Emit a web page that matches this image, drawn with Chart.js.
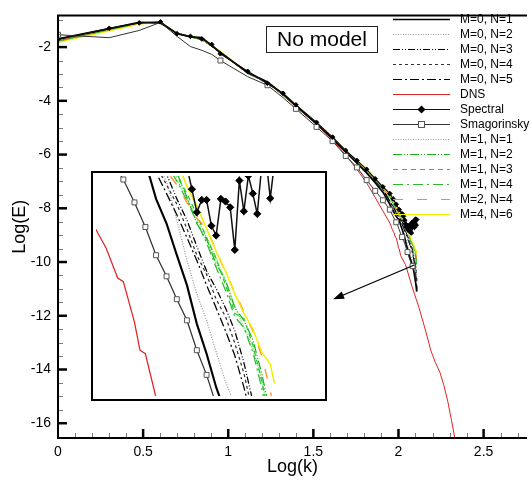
<!DOCTYPE html>
<html>
<head>
<meta charset="utf-8">
<script src="https://cdn.jsdelivr.net/npm/chart.js@4.4.1/dist/chart.umd.min.js"></script>
<style>
  body { margin: 0; background: #fff; }
  #wrap { position: relative; width: 532px; height: 483px; }
  #inset { position: absolute; left: 91px; top: 171px; }
</style>
</head>
<body>
<div id="wrap">
  <canvas id="main" width="532" height="483"></canvas>
  <canvas id="inset" width="236" height="230"></canvas>
</div>
<script>
// wavenumbers of the model runs (x axis is Log(k))
const kModel = [1, 2, 3, 4, 5, 6, 7, 8, 9, 13, 17, 21, 25, 33, 41, 49, 57, 65, 73, 81,
  89, 91, 93, 95, 97, 99, 101, 103, 105, 107, 109, 111, 113, 115, 117, 119, 121, 123, 125, 127, 128];
const kSpectral = [1, 2, 3, 4, 5, 6, 7, 8, 9, 13, 17, 21, 25, 33, 41, 49, 57, 65, 73, 81,
  89, 93, 97, 101, 105, 107, 109, 110, 111, 112, 113, 114, 115, 116, 117, 118, 119, 120,
  121, 122, 123, 124, 125, 126, 127, 128];
const kDns = [1, 2, 3, 4, 5, 6, 7, 8, 9, 13, 17, 21, 25, 33, 41, 49, 57, 65, 73, 81,
  89, 92, 94, 96, 97, 99, 100, 101, 103, 110, 120, 132, 145, 155, 165, 175, 185, 195, 205, 215, 225];

// Log(E) values
const m0n1 = [-1.69, -1.31, -1.08, -1.10, -1.49, -1.62, -1.65, -1.95, -2.2, -2.95, -3.3, -3.75, -4.18, -4.85, -5.42, -5.9, -6.32, -6.68, -7.05, -7.4,
  -7.85, -7.98, -8.08, -8.2, -8.3, -8.38, -8.42, -8.63, -8.77, -8.95, -9.12, -9.34, -9.51, -9.7, -9.85, -10.0, -10.15, -10.35, -10.6, -10.9, -11.1];
const m0n2 = [-1.72, -1.33, -1.1, -1.09, -1.5, -1.63, -1.7, -1.96, -2.19, -2.97, -3.32, -3.78, -4.2, -4.86, -5.41, -5.89, -6.3, -6.62, -6.98, -7.3,
  -7.75, -7.85, -7.95, -8.05, -8.15, -8.25, -8.33, -8.42, -8.53, -8.75, -8.98, -9.17, -9.32, -9.5, -9.67, -9.8, -9.95, -10.1, -10.25, -10.4, -10.5];
const m0n3 = [-1.7, -1.32, -1.09, -1.09, -1.52, -1.6, -1.72, -1.98, -2.2, -2.92, -3.35, -3.72, -4.25, -4.82, -5.4, -5.86, -6.27, -6.6, -6.95, -7.28,
  -7.72, -7.82, -7.92, -8.02, -8.12, -8.22, -8.3, -8.4, -8.49, -8.63, -8.75, -8.9, -9.04, -9.14, -9.25, -9.38, -9.56, -9.78, -10.0, -10.25, -10.4];
const m0n4 = [-1.71, -1.34, -1.1, -1.1, -1.5, -1.62, -1.7, -1.97, -2.18, -2.99, -3.3, -3.8, -4.19, -4.88, -5.38, -5.9, -6.29, -6.63, -6.97, -7.29,
  -7.73, -7.83, -7.94, -8.04, -8.14, -8.24, -8.33, -8.44, -8.55, -8.66, -8.8, -8.95, -9.06, -9.2, -9.3, -9.45, -9.62, -9.85, -10.1, -10.35, -10.5];
const m0n5 = [-1.7, -1.35, -1.1, -1.08, -1.52, -1.6, -1.7, -1.95, -2.22, -2.96, -3.36, -3.76, -4.22, -4.87, -5.43, -5.9, -6.3, -6.65, -7.0, -7.32,
  -7.74, -7.85, -7.96, -8.06, -8.18, -8.28, -8.36, -8.48, -8.6, -8.72, -8.85, -8.98, -9.12, -9.25, -9.38, -9.52, -9.7, -9.9, -10.2, -10.6, -10.9];
const dns = [-1.76, -1.37, -1.12, -1.09, -1.5, -1.62, -1.72, -1.97, -2.2, -2.98, -3.33, -3.8, -4.22, -4.88, -5.45, -6.02, -6.55, -7.05, -7.6, -8.1,
  -8.55, -8.79, -8.91, -9.08, -9.10, -9.33, -9.49, -9.51, -9.76, -10.1, -10.9, -11.7, -12.6, -13.3, -13.75, -14.1, -14.6, -15.2, -15.9, -16.6, -17.3];
const spectral = [-1.71, -1.3, -1.1, -1.06, -1.5, -1.6, -1.7, -1.9, -2.25, -2.9, -3.35, -3.72, -4.15, -4.8, -5.35, -5.85, -6.22, -6.55, -6.9, -7.2,
  -7.45, -7.65, -7.85, -8.05, -8.2, -8.3, -8.45, -8.575, -8.706, -8.636, -8.636, -8.783, -8.838, -8.63, -8.645, -8.678, -8.92, -8.526,
  -8.70, -8.498, -8.60, -8.715, -8.45, -8.40, -8.627, -8.42];
const smag = [-1.54, -1.65, -1.38, -1.08, -1.6, -1.98, -2.12, -2.27, -2.5, -3.1, -3.42, -3.88, -4.3, -4.97, -5.5, -6.05, -6.48, -6.95, -7.35, -7.7,
  -8.05, -8.18, -8.3, -8.42, -8.52, -8.65, -8.79, -8.95, -9.07, -9.2, -9.32, -9.49, -9.63, -9.8, -9.93, -10.05, -10.15, -10.3, -10.45, -10.6, -10.7];
const m1n1 = [-1.8, -1.37, -1.13, -1.08, -1.5, -1.63, -1.72, -1.96, -2.17, -2.97, -3.31, -3.78, -4.19, -4.84, -5.4, -5.87, -6.27, -6.6, -6.93, -7.23,
  -7.62, -7.73, -7.84, -7.95, -8.05, -8.14, -8.22, -8.32, -8.42, -8.52, -8.63, -8.74, -8.85, -8.97, -9.1, -9.24, -9.36, -9.48, -9.65, -9.9, -10.05];
const m1n2 = [-1.8, -1.36, -1.12, -1.08, -1.5, -1.62, -1.73, -1.97, -2.18, -2.98, -3.32, -3.79, -4.2, -4.85, -5.4, -5.88, -6.28, -6.62, -6.95, -7.25,
  -7.57, -7.67, -7.78, -7.88, -7.98, -8.08, -8.18, -8.28, -8.38, -8.48, -8.62, -8.77, -8.86, -9.0, -9.09, -9.25, -9.32, -9.43, -9.62, -9.85, -9.95];
const m1n3 = [-1.79, -1.37, -1.12, -1.07, -1.49, -1.62, -1.72, -1.96, -2.18, -2.97, -3.31, -3.78, -4.2, -4.84, -5.39, -5.87, -6.27, -6.61, -6.94, -7.24,
  -7.59, -7.7, -7.81, -7.91, -8.02, -8.12, -8.22, -8.31, -8.4, -8.5, -8.6, -8.72, -8.85, -8.97, -9.12, -9.28, -9.31, -9.46, -9.66, -9.9, -10.0];
const m1n4 = [-1.8, -1.36, -1.12, -1.08, -1.51, -1.63, -1.73, -1.97, -2.19, -2.98, -3.33, -3.79, -4.21, -4.85, -5.41, -5.88, -6.29, -6.62, -6.96, -7.26,
  -7.6, -7.71, -7.82, -7.93, -8.03, -8.13, -8.24, -8.33, -8.43, -8.53, -8.64, -8.76, -8.88, -9.02, -9.15, -9.3, -9.36, -9.5, -9.7, -9.95, -10.1];
const m2n4 = [-1.82, -1.38, -1.13, -1.08, -1.5, -1.63, -1.72, -1.96, -2.18, -2.98, -3.32, -3.79, -4.2, -4.85, -5.4, -5.88, -6.28, -6.62, -6.95, -7.25,
  -7.56, -7.67, -7.78, -7.9, -8.0, -8.12, -8.25, -8.37, -8.47, -8.55, -8.65, -8.74, -8.8, -8.92, -9.05, -9.16, -9.27, -9.38, -9.52, -9.72, -9.85];
const m4n6 = [-1.83, -1.4, -1.15, -1.07, -1.48, -1.6, -1.7, -1.95, -2.15, -2.95, -3.3, -3.75, -4.17, -4.82, -5.37, -5.85, -6.25, -6.58, -6.9, -7.2,
  -7.5, -7.6, -7.71, -7.82, -7.92, -8.03, -8.13, -8.23, -8.32, -8.41, -8.56, -8.67, -8.8, -8.93, -9.04, -9.17, -9.28, -9.37, -9.5, -9.57, -9.68];

// zoomed window shown in the inset
const insetX = [1.965, 2.145];
const insetY = [-9.75, -8.5];

const series = [
  { label: 'M=0, N=1', k: kModel, y: m0n1, color: '#000000', width: 1.7, dash: [] },
  { label: 'M=0, N=2', k: kModel, y: m0n2, color: '#9a9a9a', width: 1, dash: [1, 1.5] },
  { label: 'M=0, N=3', k: kModel, y: m0n3, color: '#000000', width: 1, dash: [7, 2, 1, 2, 1, 2] },
  { label: 'M=0, N=4', k: kModel, y: m0n4, color: '#333333', width: 1, dash: [3, 3] },
  { label: 'M=0, N=5', k: kModel, y: m0n5, color: '#000000', width: 1, dash: [9, 3, 2, 3] },
  { label: 'DNS', k: kDns, y: dns, color: '#e02424', width: 1, dash: [] },
  { label: 'Spectral', k: kSpectral, y: spectral, color: '#111111', width: 1.2, dash: [], marker: 'diamond' },
  { label: 'Smagorinsky', k: kModel, y: smag, color: '#333333', width: 1, dash: [], marker: 'square' },
  { label: 'M=1, N=1', k: kModel, y: m1n1, color: '#3cdc3c', width: 1, dash: [1, 1.5] },
  { label: 'M=1, N=2', k: kModel, y: m1n2, color: '#19b319', width: 1, dash: [9, 2, 1, 2, 1, 2] },
  { label: 'M=1, N=3', k: kModel, y: m1n3, color: '#22cc22', width: 1, dash: [5, 4] },
  { label: 'M=1, N=4', k: kModel, y: m1n4, color: '#2eb82e', width: 1, dash: [10, 4, 2, 4] },
  { label: 'M=2, N=4', k: kModel, y: m2n4, color: '#ff8c1a', width: 1, dash: [10, 14] },
  { label: 'M=4, N=6', k: kModel, y: m4n6, color: '#f2ee00', width: 1.2, dash: [] }
];

const FONT = '"Liberation Sans", Arial, Helvetica, sans-serif';
Chart.defaults.font.family = FONT;
Chart.defaults.color = '#000';

function makeDatasets(inset) {
  return series.map((s, i) => {
    let radius = 0;
    if (s.marker === 'square') {
      radius = ctx => {
        const k = s.k[ctx.dataIndex];
        if (inset) return k >= 89 ? 3.5 : 0;
        return (k - 1) % 8 === 0 ? 3.5 : 0;
      };
    } else if (s.marker === 'diamond') {
      radius = inset ? 3.6 : 2.3;
    }
    return {
      label: s.label,
      data: s.k.map((k, j) => ({ x: Math.log10(k), y: s.y[j] })),
      showLine: true,
      borderColor: s.color,
      borderWidth: inset ? s.width * 1.25 : s.width,
      borderDash: s.dash,
      tension: 0,
      pointStyle: s.marker === 'diamond' ? 'rectRot' : 'rect',
      pointRadius: radius,
      pointBackgroundColor: s.marker === 'diamond' ? '#000' : '#fff',
      pointBorderColor: s.marker === 'diamond' ? '#000' : '#555',
      pointBorderWidth: 1,
      order: s.marker ? 0 : (i === 0 ? 1 : series.length - i + 2)
    };
  });
}

// frame, inward ticks, legend, label box and arrow
const decor = {
  id: 'decor',
  beforeDraw(chart) {
    const c = chart.ctx;
    c.save();
    c.fillStyle = '#fff';
    c.fillRect(0, 0, chart.width, chart.height);
    c.restore();
  },
  afterDraw(chart) {
    const c = chart.ctx, a = chart.chartArea, xs = chart.scales.x, ys = chart.scales.y;
    c.save();
    // minor ticks
    c.strokeStyle = '#7a7a7a';
    c.lineWidth = 1;
    for (let i = 1; i <= 27; i++) {
      if (i % 5 === 0) continue;
      const px = Math.round(xs.getPixelForValue(i / 10)) + 0.5;
      c.beginPath(); c.moveTo(px, a.bottom); c.lineTo(px, a.bottom - 5); c.stroke();
    }
    for (let v = -16.5; v <= -1; v += 0.5) {
      if (Math.abs(v % 2) < 1e-9) continue;
      const py = Math.round(ys.getPixelForValue(v)) + 0.5;
      c.beginPath(); c.moveTo(a.left, py); c.lineTo(a.left + 5, py); c.stroke();
    }
    // major ticks
    c.strokeStyle = '#000';
    c.lineWidth = 2.5;
    for (let v = 0.5; v <= 2.5; v += 0.5) {
      const px = xs.getPixelForValue(v);
      c.beginPath(); c.moveTo(px, a.bottom); c.lineTo(px, a.bottom - 9); c.stroke();
    }
    for (let v = -16; v <= -2; v += 2) {
      const py = ys.getPixelForValue(v);
      c.beginPath(); c.moveTo(a.left, py); c.lineTo(a.left + 9, py); c.stroke();
    }
    // axis frame
    c.lineWidth = 2;
    c.beginPath();
    c.moveTo(a.right, a.top); c.lineTo(a.left, a.top);
    c.lineTo(a.left, a.bottom); c.lineTo(a.right, a.bottom);
    c.stroke();

    // "No model" box
    c.fillStyle = '#fff';
    c.fillRect(266, 26, 112, 27);
    c.strokeStyle = '#222';
    c.lineWidth = 1;
    c.strokeRect(266.5, 26.5, 111, 26);
    c.fillStyle = '#000';
    c.font = '21px ' + FONT;
    c.textAlign = 'center';
    c.textBaseline = 'middle';
    c.fillText('No model', 322, 40.5);

    // legend
    c.font = '12px ' + FONT;
    c.textAlign = 'left';
    series.forEach((s, i) => {
      const y = 19.5 + 15 * i;
      c.strokeStyle = s.color;
      c.lineWidth = s.width;
      c.setLineDash(s.dash);
      c.beginPath(); c.moveTo(393, y); c.lineTo(450, y); c.stroke();
      c.setLineDash([]);
      if (s.marker === 'diamond') {
        c.fillStyle = '#000';
        c.beginPath();
        c.moveTo(421.5, y - 4); c.lineTo(425.5, y); c.lineTo(421.5, y + 4); c.lineTo(417.5, y);
        c.closePath(); c.fill();
      } else if (s.marker === 'square') {
        c.fillStyle = '#fff';
        c.fillRect(418.5, y - 3, 6, 6);
        c.strokeStyle = '#555';
        c.lineWidth = 1;
        c.strokeRect(418.5, y - 3, 6, 6);
      }
      c.fillStyle = '#000';
      c.fillText(s.label, 460, y);
    });

    // arrow from the curve ends to the inset
    const x1 = xs.getPixelForValue(2.093), y1 = ys.getPixelForValue(-10.11);
    const x2 = xs.getPixelForValue(1.616), y2 = ys.getPixelForValue(-11.39);
    const ang = Math.atan2(y2 - y1, x2 - x1);
    c.strokeStyle = '#000';
    c.fillStyle = '#000';
    c.lineWidth = 1.3;
    c.beginPath(); c.moveTo(x1, y1); c.lineTo(x2 - 8 * Math.cos(ang), y2 - 8 * Math.sin(ang)); c.stroke();
    c.beginPath();
    c.moveTo(x2, y2);
    c.lineTo(x2 - 11 * Math.cos(ang) + 4 * Math.sin(ang), y2 - 11 * Math.sin(ang) - 4 * Math.cos(ang));
    c.lineTo(x2 - 11 * Math.cos(ang) - 4 * Math.sin(ang), y2 - 11 * Math.sin(ang) + 4 * Math.cos(ang));
    c.closePath(); c.fill();
    c.restore();
  }
};

new Chart(document.getElementById('main'), {
  type: 'scatter',
  data: { datasets: makeDatasets(false) },
  options: {
    responsive: false,
    animation: false,
    events: [],
    layout: { padding: { top: 8, right: 0, left: 0, bottom: 0 } },
    plugins: { legend: { display: false }, tooltip: { enabled: false } },
    scales: {
      x: {
        type: 'linear', min: 0, max: 2.755,
        grid: { display: false, drawTicks: false },
        border: { display: false },
        ticks: { stepSize: 0.5, includeBounds: false, padding: 6, autoSkip: false, maxRotation: 0,
          font: { size: 14 }, color: '#000', callback: v => String(v) },
        title: { display: true, text: 'Log(k)', font: { size: 18 }, color: '#000', padding: { top: 0, bottom: 5 } },
        afterFit: s => { s.height = 45; }
      },
      y: {
        type: 'linear', min: -16.55, max: -0.82,
        grid: { display: false, drawTicks: false },
        border: { display: false },
        ticks: { stepSize: 2, includeBounds: false, padding: 7, autoSkip: false,
          font: { size: 14 }, color: '#000', callback: v => String(v) },
        title: { display: true, text: 'Log(E)', font: { size: 18 }, color: '#000', padding: { top: 9, bottom: 0 } },
        afterFit: s => { s.width = 58; }
      }
    }
  },
  plugins: [decor]
});

const insetFrame = {
  id: 'insetFrame',
  beforeDraw(chart) {
    const c = chart.ctx;
    c.save();
    c.fillStyle = '#fff';
    c.fillRect(0, 0, chart.width, chart.height);
    c.restore();
  },
  afterDraw(chart) {
    const c = chart.ctx;
    c.save();
    c.strokeStyle = '#000';
    c.lineWidth = 2;
    c.strokeRect(1, 1, chart.width - 2, chart.height - 2);
    c.restore();
  }
};

new Chart(document.getElementById('inset'), {
  type: 'scatter',
  data: { datasets: makeDatasets(true) },
  options: {
    responsive: false,
    animation: false,
    events: [],
    layout: { padding: 0 },
    plugins: { legend: { display: false }, tooltip: { enabled: false } },
    scales: {
      x: { type: 'linear', min: insetX[0], max: insetX[1], display: false },
      y: { type: 'linear', min: insetY[0], max: insetY[1], display: false }
    }
  },
  plugins: [insetFrame]
});
</script>
</body>
</html>
